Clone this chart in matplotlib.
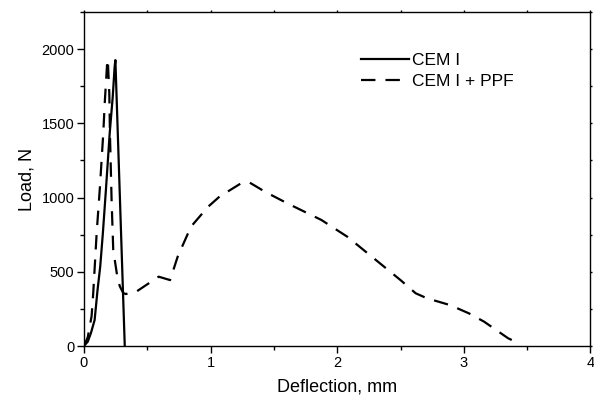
import matplotlib
matplotlib.use("Agg")
import matplotlib.pyplot as plt
from matplotlib.ticker import MultipleLocator

plt.rcParams["font.family"] = ["Liberation Sans", "DejaVu Sans"]

# ── data ─────────────────────────────────────────────────────────────────────
cem_x = [0.0, 0.03, 0.054, 0.084, 0.107, 0.128, 0.149, 0.173, 0.203, 0.227, 0.242, 0.248, 0.322]
cem_y = [0, 30, 85, 175, 377, 534, 759, 1050, 1432, 1679, 1881, 1926, 0]

ppf_x = [0.0, 0.03, 0.06, 0.073, 0.1, 0.126, 0.152, 0.165, 0.184, 0.188,
         0.2, 0.205, 0.218, 0.231, 0.263, 0.283, 0.31, 0.33, 0.42, 0.59,
         0.68, 0.74, 0.845, 0.98, 1.07, 1.248, 1.31, 1.43, 1.606, 1.875,
         2.08, 2.29, 2.5, 2.62, 2.71, 2.89, 3.04, 3.16, 3.35, 3.38]
ppf_y = [0, 60, 201, 357, 760, 1073, 1430, 1654, 1922, 1930,
         1700, 1430, 983, 648, 467, 402, 357, 350, 370, 467,
         444, 602, 804, 938, 1006, 1100, 1100, 1039, 961, 849,
         736, 590, 444, 355, 321, 276, 220, 164, 52, 40]

labels = ["CEM I", "CEM I + PPF"]

# ── chart ────────────────────────────────────────────────────────────────────
fig = plt.figure(figsize=(5.94, 4.00), dpi=100)
ax = fig.add_axes([0.1414, 0.135, 0.8526, 0.835])

ax.plot(cem_x, cem_y, color="black", lw=1.6, label=labels[0])
ax.plot(ppf_x, ppf_y, color="black", lw=1.6, ls=(0, (6.5, 4.5)), label=labels[1])

ax.set_xlim(0, 4)
ax.set_ylim(0, 2250)
ax.xaxis.set_major_locator(MultipleLocator(1))
ax.xaxis.set_minor_locator(MultipleLocator(0.5))
ax.yaxis.set_major_locator(MultipleLocator(500))
ax.yaxis.set_minor_locator(MultipleLocator(250))
ax.tick_params(which="major", direction="out", length=5, width=1, labelsize=10.5, pad=2)
ax.tick_params(which="minor", direction="out", length=3, width=1)
ax.tick_params(which="both", top=True, right=True)
# top/right ticks are barely visible in the reference
for t in ax.xaxis.get_ticklines(minor=False)[1::2] + ax.xaxis.get_ticklines(minor=True)[1::2]:
    t.set_markersize(1.5)
for t in ax.yaxis.get_ticklines(minor=False)[1::2] + ax.yaxis.get_ticklines(minor=True)[1::2]:
    t.set_markersize(1.5)
for s in ax.spines.values():
    s.set_linewidth(1.0)

ax.set_xlabel("Deflection, mm", fontsize=13, labelpad=6)
ax.set_ylabel("Load, N", fontsize=13, labelpad=4)

ax.legend(loc="upper left", bbox_to_anchor=(0.546, 0.877), frameon=False,
          fontsize=12.5, handlelength=2.8, handletextpad=0.15, labelspacing=0.3,
          borderaxespad=0, borderpad=0)

fig.savefig("out.png", dpi=100)
